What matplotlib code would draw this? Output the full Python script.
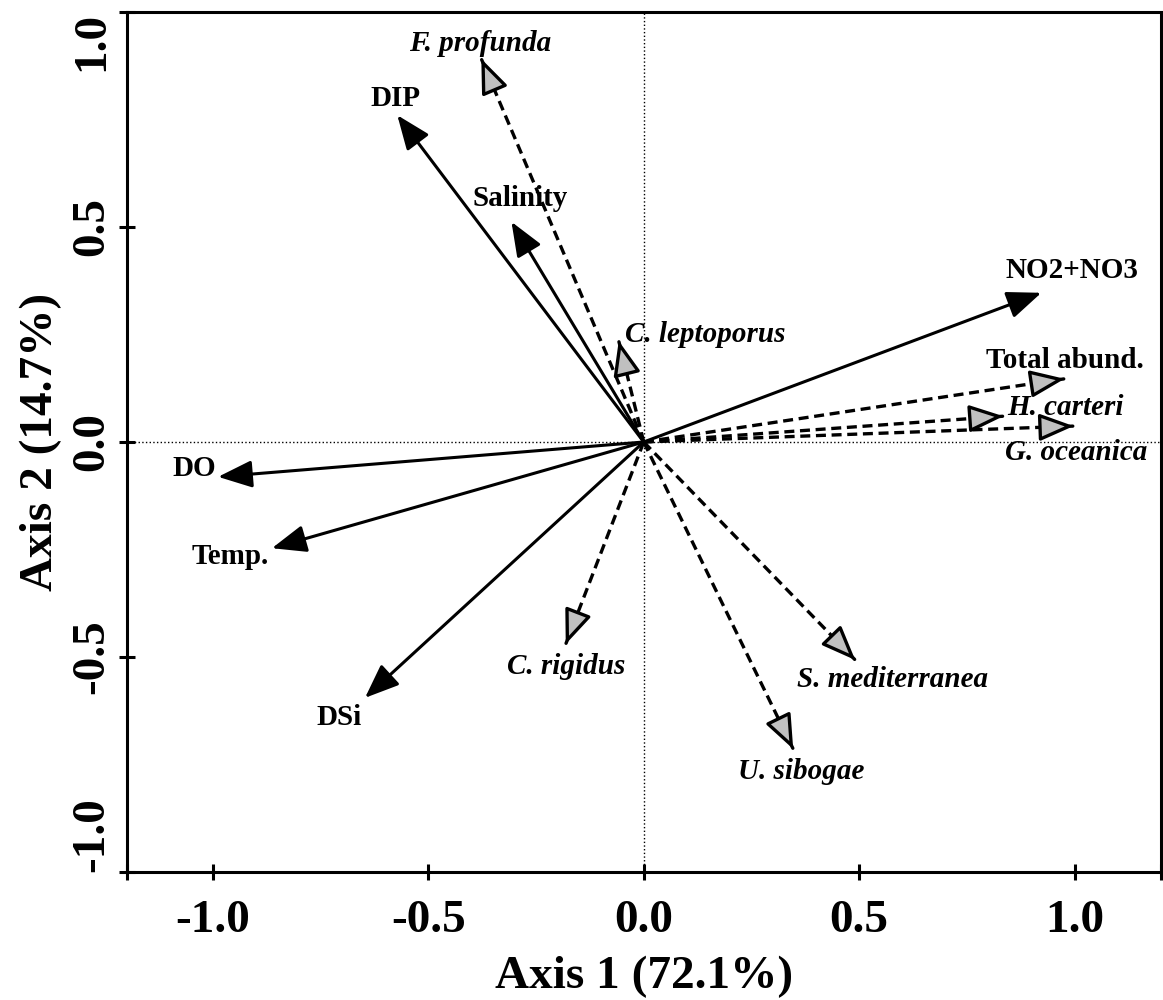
import numpy as np
import matplotlib
matplotlib.use("Agg")
import matplotlib.pyplot as plt
from matplotlib.ticker import FormatStrFormatter

# environmental variables (solid arrows)
env_names = ['DIP', 'Salinity', 'NO2+NO3', 'DO', 'Temp.', 'DSi']
env_ax1 = [-0.572, -0.307, 0.923, -0.988, -0.863, -0.647]
env_ax2 = [0.760, 0.512, 0.347, -0.081, -0.247, -0.595]

# species / abundance (dashed arrows)
sp_names = ['F. profunda', 'C. leptoporus', 'Total abund.', 'H. carteri',
            'G. oceanica', 'C. rigidus', 'U. sibogae', 'S. mediterranea']
sp_ax1 = [-0.377, -0.058, 0.977, 0.835, 0.998, -0.181, 0.347, 0.491]
sp_ax2 = [0.891, 0.235, 0.147, 0.060, 0.037, -0.470, -0.714, -0.507]

# label offsets from arrow tips (points)
env_offsets = [(-1, 12), (6, 17), (22, 16), (-17, 6), (-30, -6), (-19, -14)]
sp_offsets = [(-1, 11), (62, 5), (0, 13), (45, 6), (2, -19), (0, -16),
              (6, -16), (27, -14)]

plt.rcParams['font.family'] = ['Liberation Serif', 'DejaVu Serif']
plt.rcParams['font.weight'] = 'bold'
plt.rcParams['axes.unicode_minus'] = False

fig = plt.figure(figsize=(11.63, 10), dpi=100)
ax = fig.add_axes([0.109, 0.128, 0.889, 0.860])
ax.set_xlim(-1.2, 1.2)
ax.set_ylim(-1.0, 1.0)

ax.axhline(0, color='black', ls=':', lw=1, zorder=1)
ax.axvline(0, color='black', ls=':', lw=1, zorder=1)

# solid arrows
for name, x, y, off in zip(env_names, env_ax1, env_ax2, env_offsets):
    ax.annotate('', xy=(x, y), xytext=(0, 0),
                arrowprops=dict(arrowstyle='-|>,head_length=1.0,head_width=0.4',
                                mutation_scale=21, lw=2.2, color='black',
                                shrinkA=0, shrinkB=0), zorder=3)
    ax.annotate(name, xy=(x, y), xytext=off, textcoords='offset points',
                ha='center', va='center', fontsize=21, fontweight='bold')

# dashed arrows
for name, x, y, off in zip(sp_names, sp_ax1, sp_ax2, sp_offsets):
    r = np.hypot(x, y)
    ux, uy = x / r, y / r
    ax.plot([0, x - 0.03 * ux], [0, y - 0.03 * uy], color='black', lw=2.4,
            dashes=(3.0, 1.7), zorder=2)
    ax.annotate('', xy=(x, y), xytext=(x - 0.002 * ux, y - 0.002 * uy),
                arrowprops=dict(arrowstyle='-|>,head_length=1.0,head_width=0.4',
                                mutation_scale=21, lw=2.4, ec='black', fc='#c0c0c0',
                                shrinkA=0, shrinkB=0), zorder=4)
    style = 'normal' if name == 'Total abund.' else 'italic'
    ax.annotate(name, xy=(x, y), xytext=off, textcoords='offset points',
                ha='center', va='center', fontsize=21, fontweight='bold',
                fontstyle=style)

ax.set_xticks([-1.0, -0.5, 0.0, 0.5, 1.0])
ax.set_xticks([-1.2, 1.2], minor=True)
ax.set_yticks([-1.0, -0.5, 0.0, 0.5, 1.0])
ax.xaxis.set_major_formatter(FormatStrFormatter('%.1f'))
ax.yaxis.set_major_formatter(FormatStrFormatter('%.1f'))
ax.tick_params(which='both', direction='inout', length=12, width=2.2)
ax.tick_params(axis='x', labelsize=34, pad=14)
ax.tick_params(axis='y', labelsize=34, pad=4, labelrotation=90)
ylabs = ax.get_yticklabels()
for lab in ylabs:
    lab.set_va('center')
ylabs[0].set_va('bottom')
ylabs[-1].set_va('top')

for s in ax.spines.values():
    s.set_linewidth(2.2)

ax.set_xlabel('Axis 1 (72.1%)', fontsize=34, fontweight='bold', labelpad=10)
ax.set_ylabel('Axis 2 (14.7%)', fontsize=34, fontweight='bold', labelpad=6)

fig.savefig('out.png', dpi=100)
